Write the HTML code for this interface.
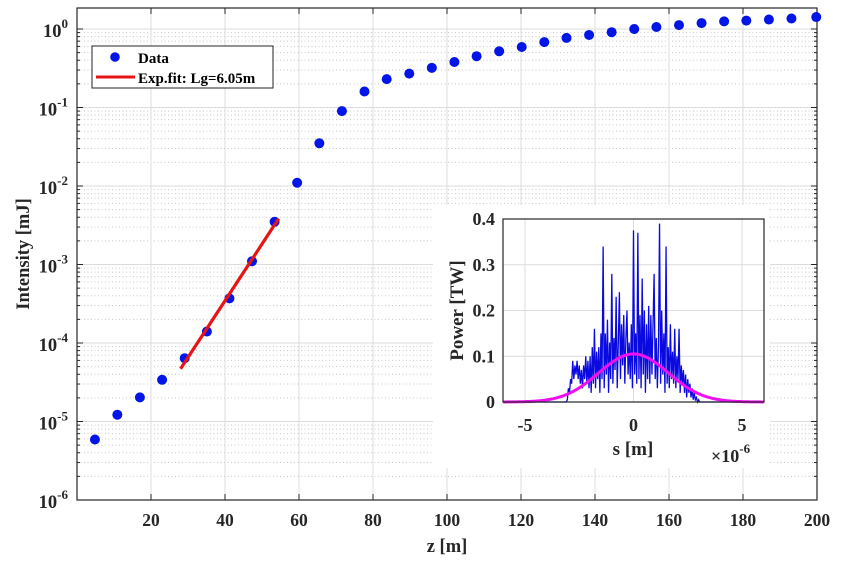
<!DOCTYPE html>
<html><head><meta charset="utf-8"><style>
body{margin:0;background:#fff}
svg{display:block;font-family:"Liberation Serif",serif;font-weight:bold}
</style></head><body>
<svg id="c" width="843" height="567" xmlns="http://www.w3.org/2000/svg"></svg>
<script>
const zVals=[4.85,10.9,17,23,29.1,35.1,41.2,47.3,53.4,59.5,65.5,71.6,77.7,83.7,89.8,95.9,102,108,114.1,120.2,126.3,132.3,138.4,144.5,150.6,156.6,162.7,168.8,174.9,180.9,187,193.1,199.8];
const intensity=[5.9e-6,1.22e-5,2.03e-5,3.4e-5,6.4e-5,1.4e-4,3.7e-4,1.1e-3,3.5e-3,1.1e-2,0.035,0.09,0.16,0.23,0.27,0.32,0.38,0.45,0.52,0.59,0.68,0.77,0.84,0.91,1.0,1.06,1.12,1.19,1.25,1.28,1.32,1.36,1.42];
const fitZ=[28,54.5];
const fitI=[4.7e-5,3.85e-3];
const xTicks=[20,40,60,80,100,120,140,160,180,200];
const yExps=[0,-1,-2,-3,-4,-5,-6];
const insetS0=-3.1, insetStep=0.05;
const power=[0,0.005,0.03,0.02,0.05,0.04,0.09,0.05,0.08,0.06,0.09,0.05,0.08,0.04,0.07,0.03,0.08,0.05,0.1,0.04,0.09,0.03,0.1,0.02,0.12,0.04,0.16,0.03,0.11,0.05,0.12,0.02,0.15,0.05,0.34,0.03,0.15,0.06,0.18,0.02,0.13,0.05,0.28,0.04,0.14,0.07,0.23,0.03,0.13,0.24,0.05,0.17,0.08,0.19,0.04,0.14,0.2,0.06,0.13,0.05,0.17,0.03,0.375,0.06,0.15,0.04,0.37,0.05,0.19,0.03,0.27,0.06,0.2,0.02,0.17,0.05,0.21,0.04,0.19,0.06,0.17,0.28,0.05,0.14,0.03,0.12,0.39,0.04,0.2,0.06,0.15,0.02,0.34,0.04,0.12,0.03,0.17,0.05,0.11,0.04,0.16,0.03,0.1,0.05,0.16,0.02,0.08,0.04,0.07,0.02,0.06,0.01,0.05,0.02,0.04,0.01,0.03,0.005,0.02,0.005,0.01,0,0.005,0,0];
const gaussAmp=0.105, gaussSigma=1.6;
const insetXTicks=[-5,0,5];
const insetYTicks=[0,0.1,0.2,0.3,0.4];

const svg=document.getElementById('c');
const NS='http://www.w3.org/2000/svg';
function mk(tag,attrs,parent){const e=document.createElementNS(NS,tag);for(const k in attrs)e.setAttribute(k,attrs[k]);(parent||svg).appendChild(e);return e;}
const L=77,R=817,T=8,B=500;
const X=z=>L+(z-0)/200*(R-L);
const dec=(B-29)/6;
const Y=v=>B-(Math.log10(v)+6)*dec;
const grid=mk('g',{});


for(let e=-6;e<=0;e++){for(let m=2;m<=9;m++){const y=Y(m*Math.pow(10,e));if(y<T)continue;mk('line',{x1:L,x2:R,y1:y,y2:y,stroke:'#c8c8c8','stroke-dasharray':'1 2.5','stroke-width':1},grid);}}
yExps.forEach(e=>{const y=Y(Math.pow(10,e));mk('line',{x1:L,x2:R,y1:y,y2:y,stroke:'#dcdcdc'},grid);});
xTicks.forEach(t=>{const x=X(t);mk('line',{x1:x,x2:x,y1:T,y2:B,stroke:'#dcdcdc'},grid);});
const box=mk('rect',{x:L,y:T,width:R-L,height:B-T,fill:'none',stroke:'#262626','stroke-width':1.2});


xTicks.forEach(t=>{const x=X(t);mk('line',{x1:x,x2:x,y1:B,y2:B-6,stroke:'#262626'});mk('line',{x1:x,x2:x,y1:T,y2:T+6,stroke:'#262626'});
 const tl=mk('text',{x:x,y:B+26,'text-anchor':'middle','font-size':17.5,fill:'#262626'});tl.textContent=t;
 
 });
yExps.forEach(e=>{const y=Y(Math.pow(10,e));mk('line',{x1:L,x2:L+6,y1:y,y2:y,stroke:'#262626'});mk('line',{x1:R,x2:R-6,y1:y,y2:y,stroke:'#262626'});
 const tl=mk('text',{x:L-9,y:y+8,'text-anchor':'end','font-size':18.5,fill:'#262626'});
 
 
 tl.innerHTML='10<tspan dy="-9" font-size="13">'+e+'</tspan>';});
for(let e=-6;e<=0;e++){for(let m=2;m<=9;m++){const y=Y(m*Math.pow(10,e));if(y<T)continue;mk('line',{x1:L,x2:L+3,y1:y,y2:y,stroke:'#262626'});mk('line',{x1:R,x2:R-3,y1:y,y2:y,stroke:'#262626'});}}
const xt=mk('text',{x:(L+R)/2,y:552,'text-anchor':'middle','font-size':18.5,fill:'#262626'});xt.textContent='z [m]';


const yt=mk('text',{x:0,y:0,'text-anchor':'middle','font-size':18.5,fill:'#262626',transform:'translate(29,'+(T+B)/2+') rotate(-90)'});yt.textContent='Intensity [mJ]';


zVals.forEach((z,i)=>{const c=mk('circle',{cx:X(z),cy:Y(intensity[i]),r:5,fill:'#0015e6'});
 
 });
const fl=mk('line',{x1:X(fitZ[0]),y1:Y(fitI[0]),x2:X(fitZ[1]),y2:Y(fitI[1]),stroke:'#e61414','stroke-width':3.2});


const lg=mk('g',{});


mk('rect',{x:92,y:46,width:181,height:42,fill:'#fff',stroke:'#262626'},lg);
mk('circle',{cx:115,cy:57,r:4.8,fill:'#0015e6'},lg);
mk('line',{x1:96,x2:135,y1:77,y2:77,stroke:'#e61414','stroke-width':3},lg);
const l1=mk('text',{x:138,y:63,'font-size':15,fill:'#000'},lg);l1.textContent='Data';
const l2=mk('text',{x:138,y:83,'font-size':15,fill:'#000'},lg);l2.textContent='Exp.fit: Lg=6.05m';
const ip=mk('rect',{x:433,y:205,width:337,height:263,fill:'#fff'});


const iL=503,iR=764,iT=219,iB=402;
const SX=s=>633.5+s*21.7;
const PY=p=>iB-p/0.4*(iB-iT);
const ig=mk('g',{});


insetXTicks.forEach(t=>mk('line',{x1:SX(t),x2:SX(t),y1:iT,y2:iB,stroke:'#dcdcdc'},ig));
insetYTicks.forEach(t=>mk('line',{x1:iL,x2:iR,y1:PY(t),y2:PY(t),stroke:'#dcdcdc'},ig));
let pts=[[SX(-6),PY(0)]];
power.forEach((p,i)=>pts.push([SX(insetS0+i*insetStep),PY(p)]));
pts.push([SX(6),PY(0)]);
const bl=mk('polyline',{points:pts.map(p=>p.join(',')).join(' '),fill:'none',stroke:'#0a0ae0','stroke-width':1.3});


let gp=[];for(let s=-6;s<=6.001;s+=0.1)gp.push(SX(s)+','+PY(gaussAmp*Math.exp(-s*s/(2*gaussSigma*gaussSigma))));
const gl=mk('polyline',{points:gp.join(' '),fill:'none',stroke:'#f00ff0','stroke-width':3});


const ib=mk('rect',{x:iL,y:iT,width:iR-iL,height:iB-iT,fill:'none',stroke:'#262626','stroke-width':1.2});


insetXTicks.forEach(t=>{const tl=mk('text',{x:SX(t),y:iB+29,'text-anchor':'middle','font-size':18,fill:'#262626'});tl.textContent=t;
 
 });
insetYTicks.forEach(t=>{const tl=mk('text',{x:iL-8,y:PY(t)+6,'text-anchor':'end','font-size':18,fill:'#262626'});tl.textContent=t;
 
 });
const ixt=mk('text',{x:633,y:455,'text-anchor':'middle','font-size':19,fill:'#262626'});ixt.textContent='s [m]';


const ex=mk('text',{x:711,y:462,'font-size':18,fill:'#262626'});ex.innerHTML='×10<tspan dy="-9" font-size="13">-6</tspan>';


const iyt=mk('text',{x:0,y:0,'text-anchor':'middle','font-size':19,fill:'#262626',transform:'translate(463,'+(iT+iB)/2+') rotate(-90)'});iyt.textContent='Power [TW]';


</script>
</body></html>
